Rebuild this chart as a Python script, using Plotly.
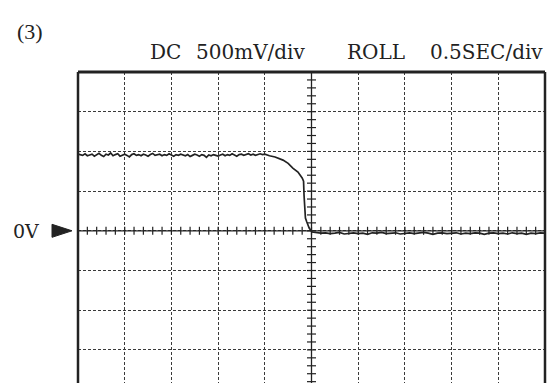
import plotly.graph_objects as go

# ---- data (time in seconds, voltage in volts) ----
# scope settings: 0.5 s/div, 500 mV/div; 10 x 8 divisions, 0 V at centre
high_dt = 0.025
high_volts = [
    0.965, 0.96, 0.95, 0.97, 0.945, 0.955, 0.965, 0.94, 0.96, 0.975, 0.95, 0.935, 0.965, 0.955, 0.98, 0.945, 0.96, 0.97, 0.94, 0.955,
    0.965, 0.95, 0.93, 0.96, 0.97, 0.95, 0.96, 0.945, 0.965, 0.955, 0.94, 0.96, 0.975, 0.95, 0.955, 0.965, 0.945, 0.96, 0.95, 0.97,
    0.955, 0.94, 0.96, 0.95, 0.965, 0.955, 0.945, 0.96, 0.935, 0.95, 0.965, 0.955, 0.94, 0.96, 0.95, 0.925, 0.955, 0.945, 0.96, 0.95,
    0.94, 0.955, 0.965, 0.945, 0.96, 0.95, 0.97, 0.955, 0.94, 0.96, 0.965, 0.95, 0.96, 0.97, 0.955, 0.965, 0.95, 0.96, 0.97, 0.96, 0.965,
]
fall_time = [2.05, 2.11, 2.195, 2.25, 2.30, 2.355, 2.40, 2.415, 2.42, 2.425, 2.435, 2.45, 2.475, 2.505]
fall_volts = [0.945, 0.93, 0.89, 0.85, 0.79, 0.74, 0.665, 0.625, 0.45, 0.30, 0.16, 0.11, 0.035, -0.015]
low_start, low_dt = 2.55, 0.05
low_volts = [
    -0.02, -0.03, -0.025, -0.035, -0.03, -0.02, -0.04, -0.03, -0.025, -0.035,
    -0.03, -0.045, -0.025, -0.03, -0.02, -0.035, -0.03, -0.025, -0.04, -0.03,
    -0.025, -0.035, -0.03, -0.02, -0.03, -0.045, -0.03, -0.025, -0.035, -0.03,
    -0.025, -0.04, -0.03, -0.035, -0.025, -0.03, -0.045, -0.03, -0.025, -0.035,
    -0.03, -0.04, -0.025, -0.035, -0.03, -0.045, -0.03, -0.035, -0.025, -0.03,
]

SEC_PER_DIV = 0.5
V_PER_DIV = 0.5

t = [i * high_dt for i in range(len(high_volts))] + fall_time + \
    [low_start + i * low_dt for i in range(len(low_volts))]
v = high_volts + fall_volts + low_volts

W, H = 550, 383
L, R, T, B = 78, 5, 72, 0
pw, ph = W - L - R, H - T - B
div_px_y = 39.7
y_top = 4 * V_PER_DIV
y_bot = y_top - ph / div_px_y * V_PER_DIV

ink = "#222222"
grid_ink = "#3a3a3a"

fig = go.Figure()
fig.add_trace(go.Scatter(x=t, y=v, mode="lines",
                         line=dict(color=ink, width=1.7), hoverinfo="skip",
                         showlegend=False))

shapes = []
# centre axes (solid)
shapes.append(dict(type="line", xref="x", yref="y", x0=0, x1=10 * SEC_PER_DIV, y0=0, y1=0,
                   line=dict(color=ink, width=1.3)))
shapes.append(dict(type="line", xref="x", yref="y", x0=5 * SEC_PER_DIV, x1=5 * SEC_PER_DIV,
                   y0=y_bot, y1=y_top, line=dict(color=ink, width=1.3)))
# minor ticks every 0.2 div
hx = 4.5 / (pw / 10) * SEC_PER_DIV
hy = 4.0 / div_px_y * V_PER_DIV
for k in range(1, 50):
    xx = k * 0.2 * SEC_PER_DIV
    shapes.append(dict(type="line", xref="x", yref="y", x0=xx, x1=xx, y0=-hy, y1=hy,
                       line=dict(color=ink, width=1.2)))
for k in range(-25, 21):
    yy = k * 0.2 * V_PER_DIV
    if yy <= y_bot or yy >= y_top:
        continue
    shapes.append(dict(type="line", xref="x", yref="y",
                       x0=5 * SEC_PER_DIV - hx, x1=5 * SEC_PER_DIV + hx, y0=yy, y1=yy,
                       line=dict(color=ink, width=1.2)))
# frame: top, left, right
shapes.append(dict(type="line", xref="paper", yref="paper", x0=0, x1=1, y0=1, y1=1,
                   line=dict(color=ink, width=3)))
shapes.append(dict(type="line", xref="paper", yref="paper", x0=0, x1=0, y0=0, y1=1,
                   line=dict(color=ink, width=2.5)))
shapes.append(dict(type="line", xref="paper", yref="paper", x0=1, x1=1, y0=0, y1=1,
                   line=dict(color=ink, width=2.5)))
# 0V marker triangle
def px(xp):
    return (xp - L) / pw
def py(yp):
    return (H - B - yp) / ph
y0v = py(T + 4 * div_px_y)
shapes.append(dict(type="path", xref="paper", yref="paper",
                   path=f"M {px(52)},{y0v + 6.5/ph} L {px(72)},{y0v} L {px(52)},{y0v - 6.5/ph} Z",
                   fillcolor=ink, line=dict(color=ink, width=1)))

serif = "DejaVu Serif"
ann = []
def text(s, xc, yc, size, family=serif):
    ann.append(dict(text=s, xref="paper", yref="paper", x=px(xc), y=py(yc),
                    xanchor="center", yanchor="middle", showarrow=False,
                    font=dict(family=family, size=size, color=ink)))

text("(3)", 30, 32, 22, "Liberation Serif")
text("DC", 165, 52, 20)
text("500mV/div", 251, 52, 20)
text("ROLL", 376, 52, 20)
text("0.5SEC/div", 486, 52, 20)
text("0V", 26, 231, 19)

fig.update_layout(
    width=W, height=H, margin=dict(l=L, r=R, t=T, b=B),
    paper_bgcolor="white", plot_bgcolor="white",
    shapes=shapes, annotations=ann,
    xaxis=dict(range=[0, 10 * SEC_PER_DIV], dtick=SEC_PER_DIV, tick0=0,
               showgrid=True, gridcolor=grid_ink, gridwidth=1, griddash="3px,2px",
               showticklabels=False, ticks="", zeroline=False, showline=False, fixedrange=True),
    yaxis=dict(range=[y_bot, y_top], dtick=V_PER_DIV, tick0=0,
               showgrid=True, gridcolor=grid_ink, gridwidth=1, griddash="3px,2px",
               showticklabels=False, ticks="", zeroline=False, showline=False, fixedrange=True),
)

fig.write_html("out.html", config={"responsive": False, "displayModeBar": False},
               post_script="document.body.style.margin='0';document.body.style.overflow='hidden';")
